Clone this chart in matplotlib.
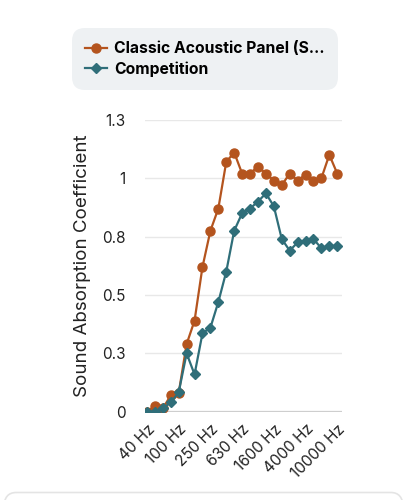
import matplotlib
matplotlib.use("Agg")
import matplotlib.pyplot as plt
from matplotlib.patches import FancyBboxPatch

plt.rcParams['font.family'] = ['Inter', 'DejaVu Sans']

# 1/3 octave bands
freqs = ["40 Hz", "50 Hz", "63 Hz", "80 Hz", "100 Hz", "125 Hz", "160 Hz", "200 Hz",
         "250 Hz", "315 Hz", "400 Hz", "500 Hz", "630 Hz", "800 Hz", "1000 Hz",
         "1250 Hz", "1600 Hz", "2000 Hz", "2500 Hz", "3150 Hz", "4000 Hz",
         "5000 Hz", "6300 Hz", "8000 Hz", "10000 Hz"]
classic = [0.0, 0.025, 0.015, 0.07, 0.08, 0.29, 0.39, 0.62, 0.775, 0.87, 1.07, 1.11,
           1.02, 1.02, 1.05, 1.02, 0.99, 0.97, 1.02, 0.99, 1.015, 0.99, 1.0, 1.1, 1.02]
competition = [0.0, 0.0, 0.015, 0.04, 0.083, 0.25, 0.16, 0.336, 0.36, 0.47, 0.6, 0.775,
               0.85, 0.87, 0.9, 0.935, 0.88, 0.74, 0.69, 0.725, 0.73, 0.74, 0.7, 0.71, 0.71]
yticks = [0, 0.25, 0.5, 0.75, 1.0, 1.25]
ytick_labels = ["0", "0.3", "0.5", "0.8", "1", "1.3"]
series_names = ["Classic Acoustic Panel (S…", "Competition"]

orange = "#B4541E"
teal = "#2F6E79"

fig = plt.figure(figsize=(4.07, 5.0), dpi=100)
ax = fig.add_axes([145 / 407, 1 - 411.8 / 500, 197 / 407, 292 / 500])

x = list(range(len(freqs)))
ax.plot(x, classic, color=orange, lw=1.6, marker="o", ms=6.5, label=series_names[0], zorder=3)
ax.plot(x, competition, color=teal, lw=1.6, marker="D", ms=4.8, label=series_names[1], zorder=4)

ax.set_xlim(-0.25, 24.6)
ax.set_ylim(0, 1.25)
ax.set_yticks(yticks)
ax.set_yticklabels(ytick_labels)
ax.set_xticks(x[::4])
ax.set_xticklabels(freqs[::4], rotation=45, ha="right", rotation_mode="anchor")
ax.tick_params(axis="both", length=0, labelsize=11, colors="#222222")
ax.tick_params(axis="y", pad=14)
ax.tick_params(axis="x", pad=7)
for s in ax.spines.values():
    s.set_visible(False)
ax.grid(axis="y", color="#E8E8E8", lw=1)
ax.axhline(0, color="#C8C8C8", lw=1.6, zorder=1)
ax.set_ylabel("Sound Absorption Coefficient", fontsize=13.5, color="#222222", labelpad=8)

leg = fig.legend(loc="upper left", bbox_to_anchor=(72 / 407, 1 - 28 / 500),
                 frameon=True, fancybox=True, facecolor="#EEF1F3", edgecolor="none",
                 prop={"weight": "bold", "size": 11.3}, handlelength=1.4,
                 borderpad=0.85, labelspacing=0.3, handletextpad=0.45, borderaxespad=0)
leg.get_frame().set_alpha(1)
leg.get_frame().set_boxstyle("round,pad=0,rounding_size=0.8")

card = FancyBboxPatch((4 / 407, -0.05), 399 / 407, 0.065, transform=fig.transFigure,
                      boxstyle="round,pad=0,rounding_size=0.03", facecolor="white",
                      edgecolor="#E4E4E4", lw=1.2)
fig.patches.append(card)

fig.savefig("out.png", dpi=100)
